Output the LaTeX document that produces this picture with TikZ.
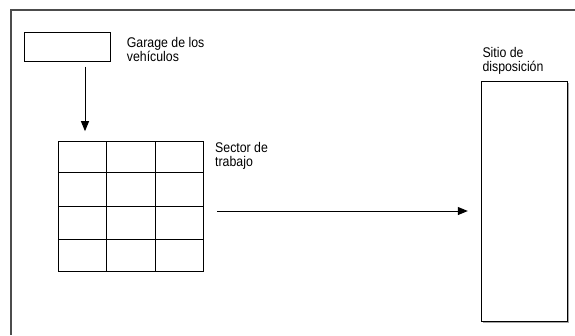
\documentclass[tikz,border=0pt]{standalone}
\usepackage{fontspec}
\setmainfont{Liberation Sans}
\newfontfamily\labfont[FakeStretch=0.88]{Liberation Sans}
\usetikzlibrary{arrows.meta}
\begin{document}
\begin{tikzpicture}[x=1pt,y=1pt,
  box/.style={draw=black,line width=1pt,inner sep=0pt,fill=white},
  lab/.style={anchor=base west,inner sep=0pt,align=left,font=\labfont\fontsize{14}{14.4}\selectfont},
  arr/.style={line width=1pt,-{Triangle[length=10pt,width=8pt]}},
  frame/.style={draw=black!70,line width=1.5pt}]
\useasboundingbox (0,0) rectangle (575,-335);
\draw[frame] (575,-10) -- (11,-10) -- (11,-335);
% garage
\node[box,minimum width=86pt,minimum height=29pt] (garage) at (67,-46.5) {};
\node[lab] (tgarage) at (126.7,-61.7) {Garage de los\\vehículos};
% grid
\node[box,minimum width=145pt,minimum height=130pt] (grid) at (130.8,-206.7) {};
\draw[line width=1pt] ([xshift=48.3pt]grid.north west) -- ([xshift=48.3pt]grid.south west);
\draw[line width=1pt] ([xshift=-48pt]grid.north east) -- ([xshift=-48pt]grid.south east);
\draw[line width=1pt] ([yshift=-31.6pt]grid.north west) -- ([yshift=-31.6pt]grid.north east);
\draw[line width=1pt] (grid.west) -- (grid.east);
\draw[line width=1pt] ([yshift=32.4pt]grid.south west) -- ([yshift=32.4pt]grid.south east);
\node[lab] (tsector) at (215,-166.7) {Sector de\\trabajo};
% sitio
\draw[black!35,line width=1pt] (482.7,-322.7) -- (568.7,-322.7) -- (568.7,-82.7);
\node[box,minimum width=86pt,minimum height=240pt] (sitio) at (524.7,-201.7) {};
\node[lab] (tsitio) at (482.3,-71.7) {Sitio de\\disposición};
% arrows
\draw[arr] ([xshift=18pt,yshift=-5pt]garage.south) -- ([xshift=-45.8pt,yshift=10pt]grid.north);
\draw[arr] ([xshift=13.4pt,yshift=-4.3pt]grid.east) -- ([xshift=-13.4pt,yshift=-9.3pt]sitio.west);
\end{tikzpicture}
\end{document}
